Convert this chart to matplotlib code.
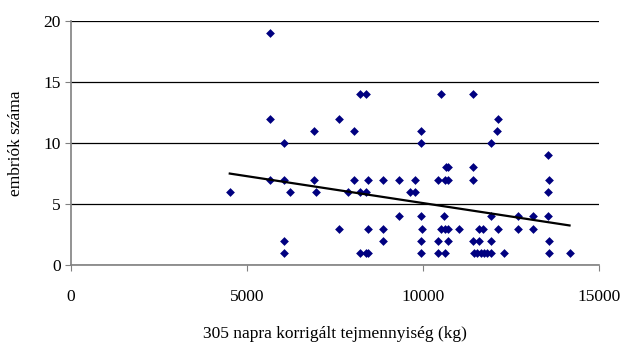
import matplotlib
matplotlib.use("Agg")
import matplotlib.pyplot as plt
import numpy as np

# milk yield (kg, 305-day corrected) vs number of embryos
tej = [4510, 5640, 5640, 5640, 6050, 6050, 6050, 6050, 6230, 6910, 6910, 6950,
       7610, 7610, 7870, 8040, 8040, 8220, 8220, 8220, 8370, 8370, 8370,
       8450, 8450, 8450, 8850, 8850, 8850, 9330, 9330, 9640, 9780, 9780,
       9930, 9930, 9930, 9960, 9930, 9930, 10430, 10510, 10620, 10710,
       10650, 10720, 10590, 10500, 10620, 10710, 10430, 10710, 10430, 10620,
       11030, 11430, 11430, 11430, 11590, 11690, 11430, 11590,
       11450, 11540, 11640, 11730, 11830, 11920, 11920, 12100, 12140,
       11940, 12130, 11940, 12290, 12690, 12690, 13130, 13130,
       13560, 13590, 13560, 13560, 13590, 13590, 14160]
embrio = [6, 19, 12, 7, 10, 7, 2, 1, 6, 11, 7, 6,
          12, 3, 6, 11, 7, 14, 6, 1, 14, 6, 1,
          7, 3, 1, 7, 3, 2, 7, 4, 6, 6, 7,
          11, 10, 4, 3, 2, 1, 7, 14, 7, 7,
          8, 8, 4, 3, 3, 3, 2, 2, 1, 1,
          3, 14, 8, 7, 3, 3, 2, 2,
          1, 1, 1, 1, 1, 1, 10, 11, 12,
          4, 3, 2, 1, 4, 3, 4, 3,
          9, 7, 6, 4, 2, 1, 1]

# linear trend line as shown in the chart (end points)
trend_x = [4510, 14160]
trend_y = [7.5, 3.25]

plt.rcParams['font.family'] = ['Liberation Serif', 'DejaVu Serif']

fig = plt.figure(figsize=(6.28, 3.43), dpi=100)
ax = fig.add_axes([0.113, 0.227, 0.841, 0.712])

ax.scatter(tej, embrio, marker='D', s=20, color='#000080', zorder=3, linewidths=0)
ax.plot(trend_x, trend_y, color='black', linewidth=1.6, zorder=4)

ax.set_xlim(0, 15000)
ax.set_ylim(0, 20)
ax.set_xticks([0, 5000, 10000, 15000])
ax.set_yticks([0, 5, 10, 15, 20])
ax.yaxis.grid(True, color='black', linewidth=0.9)
ax.set_axisbelow(True)

for s in ['top', 'right']:
    ax.spines[s].set_visible(False)
for s in ['left', 'bottom']:
    ax.spines[s].set_color('#808080')
    ax.spines[s].set_linewidth(1.2)
ax.tick_params(axis='both', colors='#808080', labelcolor='black', labelsize=12.5,
               length=4, direction='out')
ax.tick_params(axis='x', pad=13)

ax.set_xlabel('305 napra korrigált tejmennyiség (kg)', fontsize=12.5, labelpad=15)
ax.set_ylabel('embriók száma', fontsize=12.5, labelpad=14)

fig.savefig('out.png', dpi=100)
